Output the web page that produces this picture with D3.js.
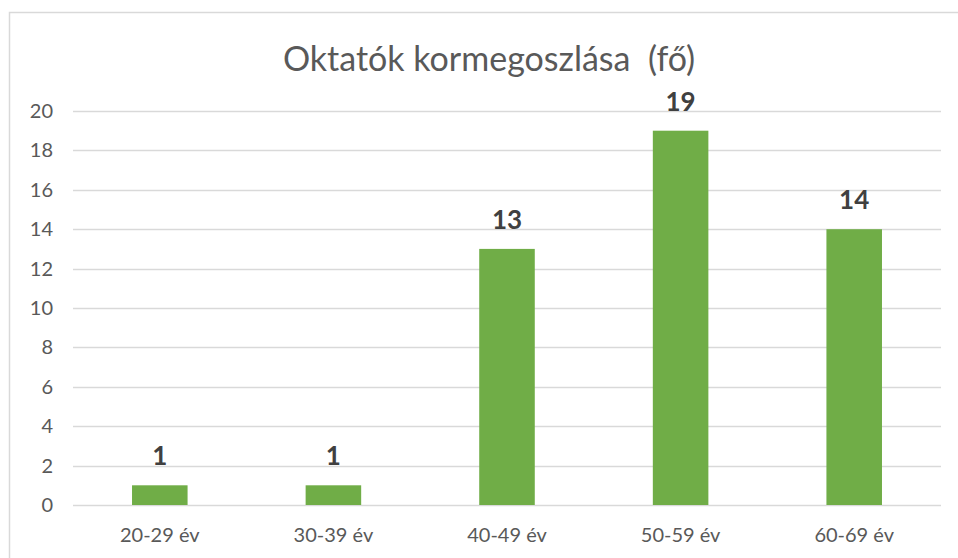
<!DOCTYPE html>
<html>
<head>
<meta charset="utf-8">
<script src="https://cdn.jsdelivr.net/npm/d3@7"></script>
<style>
  body { margin: 0; background: #fff; }
  svg { font-family: Lato, "Open Sans", sans-serif; }
</style>
</head>
<body>
<svg width="958" height="558"></svg>
<script>
var categories = ["20-29 év", "30-39 év", "40-49 év", "50-59 év", "60-69 év"];
var values = [1, 1, 13, 19, 14];
var yTicks = [0, 2, 4, 6, 8, 10, 12, 14, 16, 18, 20];
var title = "Oktatók kormegoszlása\u00a0 (fő)";

var svg = d3.select("svg"),
    width = +svg.attr("width"),
    height = +svg.attr("height");

// chart frame
svg.append("rect")
    .attr("x", 9.5).attr("y", 12.5)
    .attr("width", width).attr("height", height)
    .attr("fill", "#fff")
    .attr("stroke", "#d9d9d9")
    .attr("stroke-width", 1.5);

svg.append("text")
    .attr("x", 489).attr("y", 71)
    .attr("text-anchor", "middle")
    .attr("fill", "#595959")
    .style("font-size", "34px")
    .text(title);

var x = d3.scaleBand()
    .domain(categories)
    .range([73, 941])
    .paddingInner(0.68)
    .paddingOuter(0.34);

var y = d3.scaleLinear()
    .domain([0, 20])
    .range([505, 111]);

// gridlines
svg.append("g").selectAll("line")
  .data(yTicks)
  .enter().append("line")
    .attr("x1", 73).attr("x2", 941)
    .attr("y1", function (d) { return Math.round(y(d)) + 0.5; })
    .attr("y2", function (d) { return Math.round(y(d)) + 0.5; })
    .attr("stroke", "#d9d9d9")
    .attr("stroke-width", 1.5);

var yAxis = svg.append("g")
    .attr("transform", "translate(73,0)")
    .call(d3.axisLeft(y).tickValues(yTicks).tickSize(0).tickPadding(20));
yAxis.select(".domain").remove();
yAxis.selectAll("text")
    .attr("fill", "#595959")
    .style("font-size", "20px")
    .style("font-family", "Lato, sans-serif");

var xAxis = svg.append("g")
    .attr("transform", "translate(0,505)")
    .call(d3.axisBottom(x).tickSize(0).tickPadding(23));
xAxis.select(".domain").remove();
xAxis.selectAll("text")
    .attr("fill", "#595959")
    .style("font-size", "20px")
    .style("font-family", "Lato, sans-serif");

var data = categories.map(function (c, i) { return { cat: c, val: values[i] }; });

svg.append("g").selectAll("rect")
  .data(data)
  .enter().append("rect")
    .attr("x", function (d) { return x(d.cat); })
    .attr("y", function (d) { return y(d.val); })
    .attr("width", x.bandwidth())
    .attr("height", function (d) { return y(0) - y(d.val); })
    .attr("fill", "#70ad47");

svg.append("g").selectAll("text")
  .data(data)
  .enter().append("text")
    .attr("x", function (d) { return x(d.cat) + x.bandwidth() / 2; })
    .attr("y", function (d) { return y(d.val) - 20; })
    .attr("text-anchor", "middle")
    .attr("fill", "#404040")
    .style("font-size", "26px")
    .style("font-weight", "bold")
    .text(function (d) { return d.val; });
</script>
</body>
</html>
